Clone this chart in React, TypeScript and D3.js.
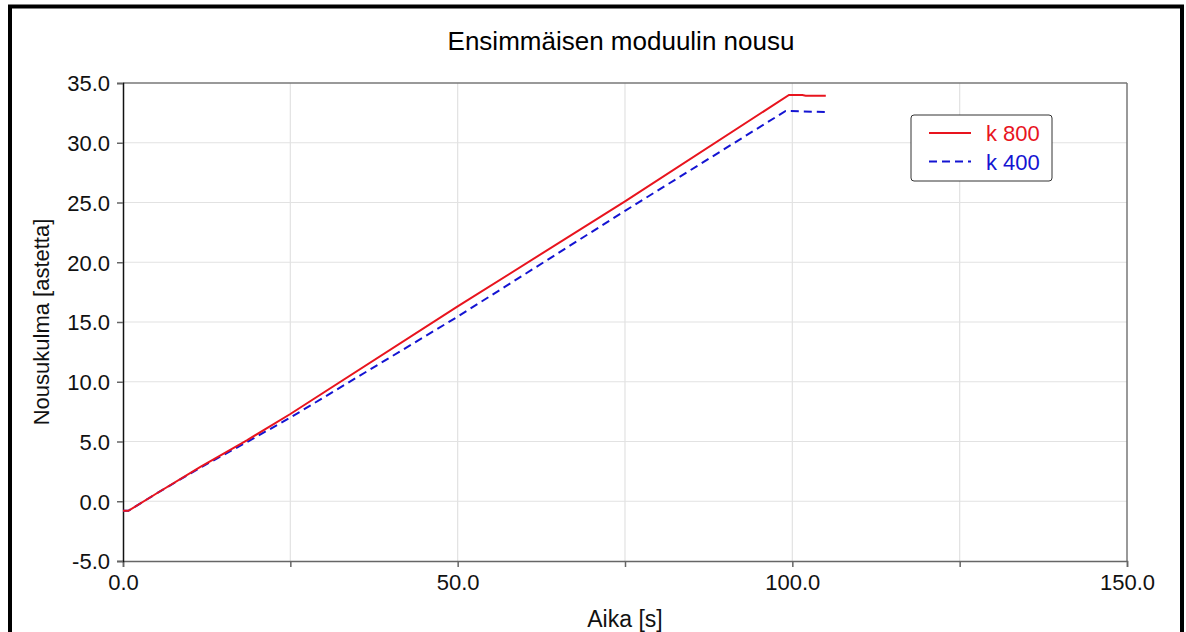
import { useEffect, useRef } from 'react';
import * as d3 from 'd3';

const TITLE = 'Ensimmäisen moduulin nousu';
const X_LABEL = 'Aika [s]';
const Y_LABEL = 'Nousukulma [astetta]';

const xTicks = [0, 25, 50, 75, 100, 125, 150];
const xLabeled = [0, 50, 100, 150];
const yTicks = [-5, 0, 5, 10, 15, 20, 25, 30, 35];

// [time s, angle deg]
const k800: [number, number][] = [
  [0, -0.8], [0.8, -0.8], [5, 0.65], [11.5, 2.85], [18.5, 5.1], [25, 7.3],
  [50, 16.3], [75, 25.1], [99.5, 34.0], [101.5, 34.0], [102, 33.94], [105, 33.94],
];
const k400: [number, number][] = [
  [0, -0.8], [0.8, -0.8], [5, 0.65], [11.5, 2.8], [18.5, 4.95], [25, 7.0],
  [50, 15.45], [75, 24.3], [99, 32.66], [105, 32.57],
];

const series = [
  { name: 'k 800', values: k800, color: '#e8141e', dash: null as string | null },
  { name: 'k 400', values: k400, color: '#1414d2', dash: '8,5' },
];

const W = 1186;
const H = 632;
const margin = { left: 123, top: 83, right: 59, bottom: 71 };
const FONT = '"Liberation Sans", Arial, sans-serif';
const fmt = (v: number) => v.toFixed(1);

const App = () => {
  const svgRef = useRef<SVGSVGElement>(null);

  useEffect(() => {
    const svg = d3.select(svgRef.current);
    svg.selectAll('*').remove();

    const innerW = W - margin.left - margin.right;
    const innerH = H - margin.top - margin.bottom;

    const x = d3.scaleLinear().domain([0, 150]).range([0, innerW]);
    const y = d3.scaleLinear().domain([-5, 35]).range([innerH, 0]);

    svg.append('rect').attr('width', W).attr('height', H).attr('fill', '#fff');
    // outer frame
    svg.append('rect')
      .attr('x', 10).attr('y', 6.5)
      .attr('width', 1172).attr('height', 660)
      .attr('fill', 'none').attr('stroke', '#000').attr('stroke-width', 4);

    svg.append('text')
      .attr('x', margin.left + innerW / 2 - 4)
      .attr('y', 50)
      .attr('text-anchor', 'middle')
      .style('font-family', FONT)
      .style('font-size', '26px')
      .attr('fill', '#000')
      .text(TITLE);

    const g = svg.append('g').attr('transform', `translate(${margin.left},${margin.top})`);

    // grid
    g.selectAll('line.vgrid')
      .data(xTicks.filter(t => t > 0 && t < 150))
      .join('line')
      .attr('class', 'vgrid')
      .attr('x1', d => x(d)).attr('x2', d => x(d))
      .attr('y1', 0).attr('y2', innerH)
      .attr('stroke', '#e2e2e2').attr('stroke-width', 1.2);
    g.selectAll('line.hgrid')
      .data(yTicks.filter(t => t > -5 && t < 35))
      .join('line')
      .attr('class', 'hgrid')
      .attr('x1', 0).attr('x2', innerW)
      .attr('y1', d => y(d)).attr('y2', d => y(d))
      .attr('stroke', '#e2e2e2').attr('stroke-width', 1.2);

    // frame top/right
    g.append('line').attr('x1', 0).attr('x2', innerW).attr('y1', 0).attr('y2', 0)
      .attr('stroke', '#777').attr('stroke-width', 1.5);
    g.append('line').attr('x1', innerW).attr('x2', innerW).attr('y1', 0).attr('y2', innerH)
      .attr('stroke', '#777').attr('stroke-width', 1.5);

    // x axis
    const xAxis = g.append('g').attr('transform', `translate(0,${innerH})`)
      .call(d3.axisBottom(x).tickValues(xTicks).tickSize(6)
        .tickFormat(d => (xLabeled.includes(+d) ? fmt(+d) : '')));
    xAxis.select('.domain').attr('stroke', '#666').attr('stroke-width', 1.5);
    xAxis.selectAll('.tick line').attr('stroke', '#666').attr('stroke-width', 1.5);
    xAxis.selectAll('.tick text')
      .attr('dy', '0').attr('y', 29)
      .style('font-family', FONT).style('font-size', '22px').attr('fill', '#111');

    // y axis
    const yAxis = g.append('g')
      .call(d3.axisLeft(y).tickValues(yTicks).tickSize(6).tickFormat(d => fmt(+d)));
    yAxis.select('.domain').attr('stroke', '#111').attr('stroke-width', 1.5);
    yAxis.selectAll('.tick line').attr('stroke', '#666').attr('stroke-width', 1.5);
    yAxis.selectAll('.tick text')
      .attr('x', -13).attr('dy', '0.36em')
      .style('font-family', FONT).style('font-size', '22px').attr('fill', '#111');

    svg.append('text')
      .attr('x', margin.left + innerW / 2)
      .attr('y', 627)
      .attr('text-anchor', 'middle')
      .style('font-family', FONT).style('font-size', '23px').attr('fill', '#111')
      .text(X_LABEL);

    svg.append('text')
      .attr('transform', `translate(49,${margin.top + innerH / 2}) rotate(-90)`)
      .attr('text-anchor', 'middle')
      .style('font-family', FONT).style('font-size', '22px').attr('fill', '#111')
      .text(Y_LABEL);

    const line = d3.line<[number, number]>().x(d => x(d[0])).y(d => y(d[1]));

    series.slice().reverse().forEach(s => {
      g.append('path')
        .datum(s.values)
        .attr('d', line)
        .attr('fill', 'none')
        .attr('stroke', s.color)
        .attr('stroke-width', 2)
        .attr('stroke-dasharray', s.dash);
    });

    // legend
    const legend = svg.append('g').attr('transform', 'translate(911,115)');
    legend.append('rect')
      .attr('width', 141).attr('height', 66).attr('rx', 3)
      .attr('fill', '#fff').attr('stroke', '#333').attr('stroke-width', 1);
    const items = legend.selectAll('g.item')
      .data(series)
      .join('g')
      .attr('class', 'item')
      .attr('transform', (d, i) => `translate(0,${18 + i * 28.5})`);
    items.append('line')
      .attr('x1', 18).attr('x2', 60).attr('y1', 0).attr('y2', 0)
      .attr('stroke', d => d.color).attr('stroke-width', 2)
      .attr('stroke-dasharray', d => d.dash);
    items.append('text')
      .attr('x', 75).attr('y', 8)
      .style('font-family', FONT).style('font-size', '22px')
      .attr('fill', d => d.color)
      .text(d => d.name);
  }, []);

  return (
    <div style={{ position: 'absolute', left: 0, top: 0 }}>
      <svg ref={svgRef} width={W} height={H} style={{ display: 'block' }} />
    </div>
  );
};

export default App;
